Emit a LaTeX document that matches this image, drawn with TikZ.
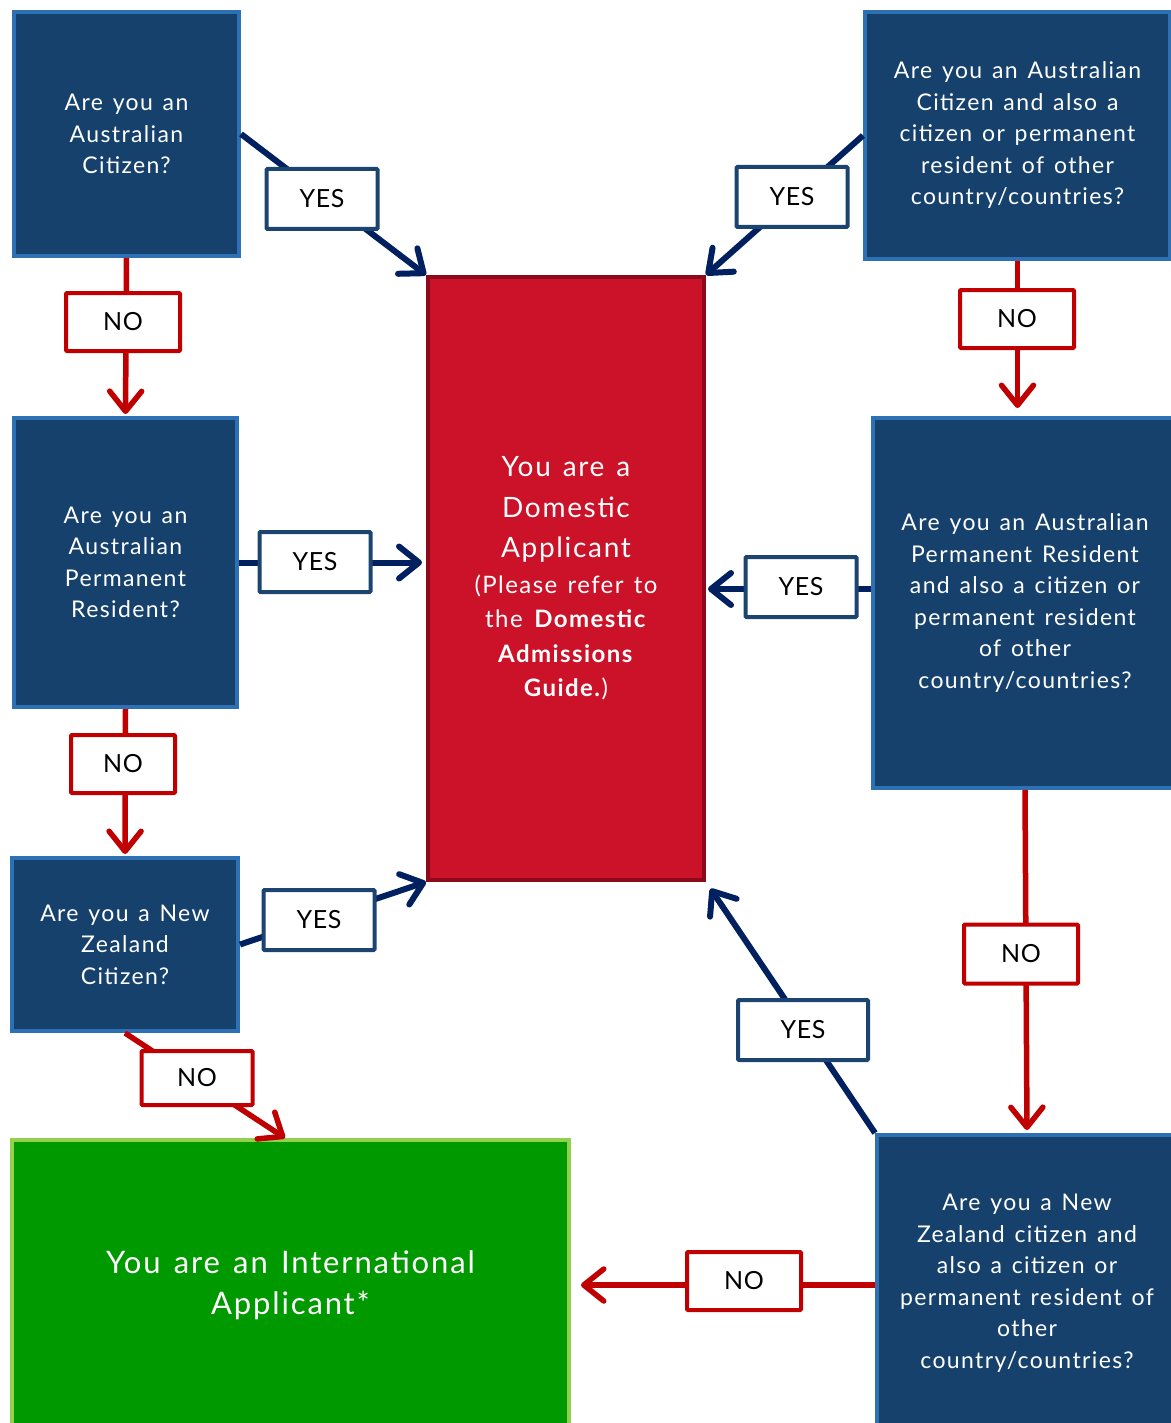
\documentclass[tikz,border=0pt]{standalone}
\usepackage{fontspec}
\setmainfont{Lato}[LetterSpace=6,WordSpace=1.35]
\newfontfamily\lblfont{Lato}[LetterSpace=2]
\usetikzlibrary{arrows.meta}
\definecolor{qfill}{RGB}{22,65,108}
\definecolor{qborder}{RGB}{46,112,180}
\definecolor{navy}{RGB}{0,32,96}
\definecolor{lblblue}{RGB}{27,68,112}
\definecolor{nored}{RGB}{192,0,0}
\definecolor{domfill}{RGB}{204,18,41}
\definecolor{domborder}{RGB}{140,10,28}
\definecolor{intfill}{RGB}{0,153,0}
\definecolor{intborder}{RGB}{146,208,80}
\tikzset{
  qbox/.style={draw=qborder, fill=qfill, line width=4pt, text=white, align=center,
    inner sep=0pt, anchor=north west, font=\fontsize{23}{31.5}\selectfont},
  lbl/.style={fill=white, line width=4pt, inner sep=0pt, minimum height=60pt,
    font=\lblfont\fontsize{25}{30}\selectfont, rounded corners=1pt},
  yeslbl/.style={lbl, draw=lblblue, minimum width=111pt},
  nolbl/.style={lbl, draw=nored, minimum width=114pt},
  navyarr/.style={draw=navy, line width=6pt, -{Straight Barb[length=20pt,width=32pt,round]}},
  redarr/.style={draw=nored, line width=5.5pt, -{Straight Barb[length=20pt,width=32pt,round]}}
}
\begin{document}
\begin{tikzpicture}[x=1pt,y=-1pt]
\useasboundingbox (0,0) rectangle (1170,1423);
% question boxes
\node[qbox, minimum width=225pt, minimum height=244pt] (A) at (12,10) {Are you an\\Australian\\Citizen?};
\node[qbox, minimum width=223pt, minimum height=289pt] (B) at (12,416) {Are you an\\Australian\\Permanent\\Resident?};
\node[qbox, minimum width=226pt, minimum height=173pt] (C) at (10,856) {Are you a New\\Zealand\\Citizen?};
\node[qbox, minimum width=305pt, minimum height=247pt] (D) at (863,10) {Are you an Australian\\Citizen and also a\\citizen or permanent\\resident of other\\country/countries?};
\node[qbox, minimum width=304pt, minimum height=370pt] (E) at (871,416) {Are you an Australian\\Permanent Resident\\and also a citizen or\\permanent resident\\of other\\country/countries?};
\node[qbox, minimum width=300pt, minimum height=296pt] (F) at (875,1133) {Are you a New\\Zealand citizen and\\also a citizen or\\permanent resident of\\other\\country/countries?};
% outcome boxes
\node[draw=domborder, fill=domfill, line width=4pt, text=white, anchor=north west,
  minimum width=276pt, minimum height=603pt, inner sep=0pt, align=center,
  font=\fontsize{24}{34.5}\selectfont] (red) at (426,275)
  {{\fontsize{28}{40}\selectfont You are a}\\[6pt]
   {\fontsize{28}{40}\selectfont Domestic}\\[6pt]
   {\fontsize{28}{40}\selectfont Applicant}\\[1pt]
   (Please refer to\\the \textbf{Domestic}\\\textbf{Admissions}\\\textbf{Guide.})};
\node[draw=intborder, fill=intfill, line width=4pt, text=white, anchor=north west,
  minimum width=557pt, minimum height=290pt, inner sep=0pt, align=center,
  font=\fontsize{31}{41}\selectfont] (green) at (10,1138) {You are an International\\Applicant*};
\coordinate (gin) at ([xshift=275pt]green.north west);
% connectors
\draw[navyarr] (A.east) -- (red.north west);
\draw[navyarr] (D.west) -- (red.north east);
\draw[redarr, shorten >=2pt] (A.south) -- (B.north);
\draw[redarr, shorten >=8pt] (D.south) -- (D.south |- E.north);
\draw[navyarr, shorten >=4pt] (B.east) -- (B.east -| red.west);
\draw[navyarr, shorten >=2pt] ([yshift=14pt]E.west) -- ([yshift=14pt]E.west -| red.east);
\draw[redarr, shorten >=2pt] (B.south) -- (C.north);
\draw[navyarr] (C.east) -- (red.south west);
\draw[redarr, shorten >=3pt] (E.south) -- (F.north);
\draw[redarr] (C.south) -- (gin);
\draw[navyarr, shorten >=8pt] (F.north west) -- (red.south east);
\draw[redarr, shorten >=10pt] ([yshift=-2pt]F.west) -- ([yshift=-2pt]F.west -| green.east);
% labels
\node[yeslbl] (Y1) at (322,199) {YES};
\node[yeslbl] (Y2) at (792,197) {YES};
\node[nolbl, minimum height=58pt] (N1) at (123,322) {NO};
\node[nolbl, minimum height=58pt] (N2) at (1017,319) {NO};
\node[yeslbl] (Y3) at (315,562) {YES};
\node[yeslbl] (Y4) at (801,587) {YES};
\node[nolbl, minimum width=104pt, minimum height=58pt] (N3) at (123,764) {NO};
\node[nolbl, minimum height=59pt] (N4) at (1021,954) {NO};
\node[yeslbl] (Y5) at (319,920) {YES};
\node[yeslbl, minimum width=130pt] (Y6) at (803,1030) {YES};
\node[nolbl, minimum width=111pt, minimum height=54pt] (N5) at (197,1078) {NO};
\node[nolbl, minimum height=58pt] (N6) at (744,1281) {NO};
\end{tikzpicture}
\end{document}
